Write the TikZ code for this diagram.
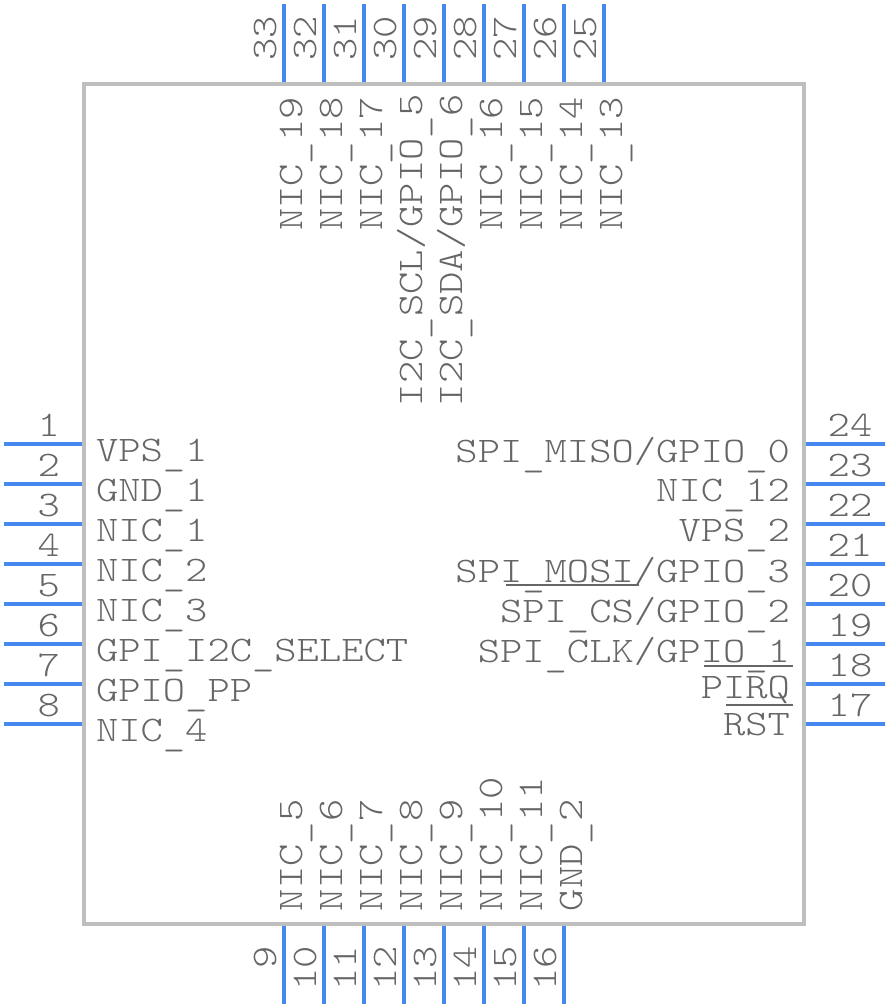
\documentclass[tikz,border=0pt]{standalone}
\usepackage{fontspec}
\setmonofont[FakeStretch=1.18]{Latin Modern Mono Light}
\newcommand{\us}{\raisebox{-4pt}{\_}}
\definecolor{boxc}{HTML}{BFBFBF}
\definecolor{pinc}{HTML}{4488F0}
\definecolor{txtc}{HTML}{666666}
\tikzset{
  x=1pt,y=-1pt,
  body/.style={draw=boxc,line width=4pt},
  pinline/.style={draw=pinc,line width=4pt},
  over/.style={draw=txtc,line width=2pt},
  lbl/.style={inner sep=0pt,outer sep=0pt,text=txtc,font=\fontsize{36}{36}\selectfont\ttfamily},
  lw/.style={lbl,anchor=base west},
  le/.style={lbl,anchor=base east},
  vw/.style={lbl,anchor=base west,rotate=90},
  ve/.style={lbl,anchor=base east,rotate=90}
}
\begin{document}
\begin{tikzpicture}
\useasboundingbox (0,0) rectangle (888,1008);
\draw[body] (84,84) rectangle (804,924);
% left pins
\foreach \n [count=\i from 0] in {1,...,8}{
  \coordinate (la\n) at (4,444+40*\i);
  \coordinate (lb\n) at (82,444+40*\i);
  \draw[pinline] (la\n) -- (lb\n);
  \node[le] (ln\n) at (60,436+40*\i) {\n};
}
% right pins
\foreach \n [count=\i from 0] in {24,23,...,17}{
  \coordinate (ra\n) at (806,444+40*\i);
  \coordinate (rb\n) at (885,444+40*\i);
  \draw[pinline] (ra\n) -- (rb\n);
  \node[lbl,anchor=base] (rn\n) at (850,436+40*\i) {\n};
}
% top pins
\foreach \n [count=\i from 0] in {33,32,...,25}{
  \coordinate (ta\n) at (284+40*\i,4);
  \coordinate (tb\n) at (284+40*\i,82);
  \draw[pinline] (ta\n) -- (tb\n);
  \node[ve] (tn\n) at (276+40*\i,16) {\n};
}
% bottom pins
\foreach \n [count=\i from 0] in {9,10,...,16}{
  \coordinate (ba\n) at (284+40*\i,926);
  \coordinate (bb\n) at (284+40*\i,1004);
  \draw[pinline] (ba\n) -- (bb\n);
  \node[ve] (bn\n) at (276+40*\i,946) {\n};
}
% left names
\node[lw] (n1) at (96,461) {VPS\us 1};
\node[lw] (n2) at (96,501) {GND\us 1};
\node[lw] (n3) at (96,541) {NIC\us 1};
\node[lw] (n4) at (96,581) {NIC\us 2};
\node[lw] (n5) at (96,621) {NIC\us 3};
\node[lw] (n6) at (96,661) {GPI\us I2C\us SELECT};
\node[lw] (n7) at (96,701) {GPIO\us PP};
\node[lw] (n8) at (96,741) {NIC\us 4};
% right names
\node[le] (n24) at (790,462) {SPI\us MISO/GPIO\us 0};
\node[le] (n23) at (790,501) {NIC\us 12};
\node[le] (n22) at (790,541) {VPS\us 2};
\node[le] (n21) at (790,582) {SPI\us MOSI/GPIO\us 3};
\node[le] (n20) at (790,622) {SPI\us CS/GPIO\us 2};
\node[le] (n19) at (790,662) {SPI\us CLK/GPIO\us 1};
\node[le] (n18) at (790,698) {PIRQ};
\node[le] (n17) at (790,735) {RST};
% overlines
\coordinate (o1a) at (506,585); \coordinate (o1b) at (639,585);
\coordinate (o2a) at (704,666); \coordinate (o2b) at (793,666);
\coordinate (o3a) at (726,705); \coordinate (o3b) at (793,705);
\draw[over] (o1a) -- (o1b);
\draw[over] (o2a) -- (o2b);
\draw[over] (o3a) -- (o3b);
% top names
\node[vw] (n33) at (302,231) {NIC\us 19};
\node[vw] (n32) at (342,231) {NIC\us 18};
\node[vw] (n31) at (382,231) {NIC\us 17};
\node[vw] (n30) at (422,406) {I2C\us SCL/GPIO\us 5};
\node[vw] (n29) at (462,406) {I2C\us SDA/GPIO\us 6};
\node[vw] (n28) at (502,231) {NIC\us 16};
\node[vw] (n27) at (542,231) {NIC\us 15};
\node[vw] (n26) at (582,231) {NIC\us 14};
\node[vw] (n25) at (622,231) {NIC\us 13};
% bottom names
\node[vw] (n9) at (302,911) {NIC\us 5};
\node[vw] (n10) at (342,911) {NIC\us 6};
\node[vw] (n11) at (382,911) {NIC\us 7};
\node[vw] (n12) at (422,911) {NIC\us 8};
\node[vw] (n13) at (462,911) {NIC\us 9};
\node[vw] (n14) at (502,911) {NIC\us 10};
\node[vw] (n15) at (542,911) {NIC\us 11};
\node[vw] (n16) at (582,911) {GND\us 2};
\end{tikzpicture}
\end{document}
